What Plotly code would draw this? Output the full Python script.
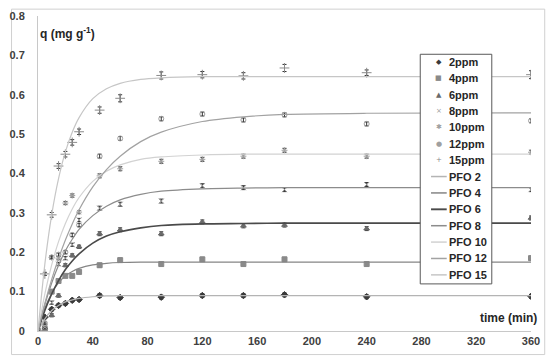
import plotly.graph_objects as go

# sampling times (min)
time_min = [0, 5, 10, 15, 20, 25, 30, 45, 60, 90, 120, 150, 180, 240, 360]

q_2ppm = [0, 0.035, 0.055, 0.065, 0.070, 0.078, 0.080, 0.090, 0.085, 0.086, 0.090, 0.090, 0.092, 0.087, 0.088]
q_4ppm = [0, 0.005, 0.100, 0.127, 0.140, 0.140, 0.150, 0.167, 0.180, 0.170, 0.182, 0.170, 0.182, 0.170, 0.185]
q_6ppm = [0, 0.008, 0.040, 0.090, 0.167, 0.192, 0.214, 0.247, 0.257, 0.247, 0.277, 0.267, 0.269, 0.260, 0.287]
q_8ppm = [0, 0.010, 0.072, 0.170, 0.185, 0.219, 0.282, 0.312, 0.322, 0.330, 0.369, 0.364, 0.359, 0.372, 0.359]
q_10ppm = [0, 0.015, 0.187, 0.185, 0.325, 0.344, 0.302, 0.394, 0.412, 0.431, 0.436, 0.444, 0.459, 0.444, 0.454]
q_12ppm = [0, 0.020, 0.187, 0.194, 0.200, 0.244, 0.269, 0.444, 0.489, 0.539, 0.551, 0.536, 0.549, 0.526, 0.534]
q_15ppm = [0, 0.145, 0.295, 0.419, 0.449, 0.479, 0.506, 0.561, 0.591, 0.649, 0.651, 0.648, 0.668, 0.656, 0.651]

err_small = [0, 0.003, 0.004, 0.004, 0.004, 0.004, 0.004, 0.005, 0.005, 0.005, 0.005, 0.005, 0.005, 0.005, 0.005]
err_big = [0, 0.004, 0.006, 0.006, 0.007, 0.007, 0.007, 0.008, 0.009, 0.009, 0.008, 0.008, 0.009, 0.007, 0.010]

# PFO model curves
pfo_time = [0, 5, 10, 15, 20, 25, 30, 40, 50, 60, 75, 90, 120, 150, 180, 240, 360]
pfo_2 = [0, 0.031, 0.052, 0.065, 0.074, 0.079, 0.083, 0.087, 0.089, 0.090, 0.090, 0.090, 0.090, 0.090, 0.090, 0.090, 0.090]
pfo_4 = [0, 0.058, 0.096, 0.122, 0.140, 0.151, 0.159, 0.168, 0.172, 0.174, 0.175, 0.175, 0.175, 0.175, 0.175, 0.175, 0.175]
pfo_6 = [0, 0.052, 0.094, 0.128, 0.156, 0.178, 0.196, 0.223, 0.241, 0.252, 0.262, 0.268, 0.272, 0.273, 0.274, 0.274, 0.274]
pfo_8 = [0, 0.067, 0.122, 0.167, 0.204, 0.233, 0.258, 0.293, 0.317, 0.333, 0.347, 0.355, 0.361, 0.363, 0.364, 0.364, 0.364]
pfo_10 = [0, 0.094, 0.168, 0.227, 0.273, 0.310, 0.339, 0.380, 0.406, 0.422, 0.436, 0.442, 0.447, 0.449, 0.449, 0.449, 0.449]
pfo_12 = [0, 0.070, 0.131, 0.184, 0.231, 0.272, 0.308, 0.366, 0.410, 0.444, 0.481, 0.505, 0.532, 0.544, 0.550, 0.553, 0.554]
pfo_15 = [0, 0.170, 0.295, 0.387, 0.455, 0.505, 0.542, 0.590, 0.615, 0.629, 0.639, 0.643, 0.646, 0.646, 0.646, 0.646, 0.646]

FONT = "Liberation Sans"
W, H = 550, 359
ML, MR, MT, MB = 30, 17, 10, 28


def px(x):
    # figure pixel -> paper x
    return (x - ML) / (W - ML - MR)


def py(y):
    # figure pixel -> paper y
    return (H - MB - y) / (H - MT - MB)


fig = go.Figure()

series = [
    ("2ppm", q_2ppm, err_small, "diamond", "#3a3a3a", 5, "◆"),
    ("4ppm", q_4ppm, err_small, "square", "#8a8a8a", 5, "■"),
    ("6ppm", q_6ppm, err_small, "triangle-up", "#6a6a6a", 5, "▲"),
    ("8ppm", q_8ppm, err_small, "x-thin-open", "#9a9a9a", 5, "×"),
    ("10ppm", q_10ppm, err_small, "asterisk-open", "#a0a0a0", 5, "✱"),
    ("12ppm", q_12ppm, err_small, "circle-open", "#a0a0a0", 5, "●"),
    ("15ppm", q_15ppm, err_big, "cross-thin-open", "#8a8a8a", 7, "+"),
]
for name, q, err, sym, col, size, _ in series:
    fig.add_trace(go.Scatter(
        x=time_min, y=q, mode="markers", name=name,
        marker=dict(symbol=sym, size=size, color=col, line=dict(color=col, width=1)),
        error_y=dict(type="data", array=err, color="#333333", thickness=1, width=2),
    ))

pfo = [
    ("PFO 2", pfo_2, "#b4b4b4", 1.2),
    ("PFO 4", pfo_4, "#858585", 1.2),
    ("PFO 6", pfo_6, "#4a4a4a", 1.6),
    ("PFO 8", pfo_8, "#8c8c8c", 1.2),
    ("PFO 10", pfo_10, "#d2d2d2", 1.2),
    ("PFO 12", pfo_12, "#a2a2a2", 1.2),
    ("PFO 15", pfo_15, "#c6c6c6", 1.2),
]
for name, q, col, w in pfo:
    fig.add_trace(go.Scatter(
        x=pfo_time, y=q, mode="lines", name=name,
        line=dict(color=col, width=w, shape="spline", smoothing=0.8),
    ))

# hand-drawn legend box (plotly's own legend rows are too tall for this layout)
annotations = [
    dict(text="<b>q (mg g<sup>-1</sup>)</b>", xref="paper", yref="paper",
         x=px(30), y=py(27), xanchor="left", yanchor="middle", showarrow=False,
         font=dict(family=FONT, size=12, color="#262626")),
    dict(text="<b>time (min)</b>", xref="paper", yref="paper",
         x=px(541), y=py(318), xanchor="right", yanchor="middle", showarrow=False,
         font=dict(family=FONT, size=12, color="#262626")),
]
shapes = [
    dict(type="rect", xref="paper", yref="paper",
         x0=px(3), x1=px(547), y0=py(355), y1=py(3),
         line=dict(color="#d0d0d0", width=1), fillcolor="rgba(0,0,0,0)", layer="below"),
    dict(type="rect", xref="paper", yref="paper",
         x0=px(420), x1=px(493), y0=py(283), y1=py(49),
         line=dict(color="#595959", width=1), fillcolor="white", layer="above"),
]
row0, step = 56.7, 16.7
labels = [s[0] for s in series] + [p[0] for p in pfo]
for i, lab in enumerate(labels):
    yy = row0 + i * step
    if i < len(series):
        _, _, _, _, col, _, glyph = series[i]
        annotations.append(dict(
            text=glyph, xref="paper", yref="paper", x=px(439), y=py(yy),
            xanchor="center", yanchor="middle", showarrow=False,
            font=dict(family="DejaVu Sans", size=7, color=col)))
    else:
        _, _, col, w = pfo[i - len(series)]
        shapes.append(dict(type="line", xref="paper", yref="paper",
                           x0=px(431), x1=px(447), y0=py(yy), y1=py(yy),
                           line=dict(color=col, width=w + 0.3), layer="above"))
    annotations.append(dict(
        text=f"<b>{lab}</b>", xref="paper", yref="paper", x=px(447.5), y=py(yy),
        xanchor="left", yanchor="middle", showarrow=False,
        font=dict(family=FONT, size=11, color="#262626")))

fig.update_layout(
    width=W, height=H,
    margin=dict(l=ML, r=MR, t=MT, b=MB),
    paper_bgcolor="white", plot_bgcolor="white",
    font=dict(family=FONT, size=11, color="#404040"),
    showlegend=False,
    xaxis=dict(
        range=[0, 360], tickmode="array", tickvals=list(range(0, 361, 40)),
        showgrid=False, zeroline=False, showline=True, linecolor="#c8c8c8", linewidth=1,
        ticks="", tickfont=dict(family=FONT, size=11, color="#404040", weight="bold"),
    ),
    yaxis=dict(
        range=[0, 0.8], tickmode="array", tickvals=[0, 0.1, 0.2, 0.3, 0.4, 0.5, 0.6, 0.7, 0.8],
        ticktext=["0", "0.1", "0.2", "0.3", "0.4", "0.5", "0.6", "0.7", "0.8"],
        showgrid=False, zeroline=False, showline=True, linecolor="#c8c8c8", linewidth=1,
        ticks="", ticklabelstandoff=10,
        tickfont=dict(family=FONT, size=11, color="#404040", weight="bold"),
    ),
    annotations=annotations,
    shapes=shapes,
)

fig.write_html("out.html", config={"displayModeBar": False},
               post_script="document.body.style.margin='0';document.body.style.overflow='hidden';")
